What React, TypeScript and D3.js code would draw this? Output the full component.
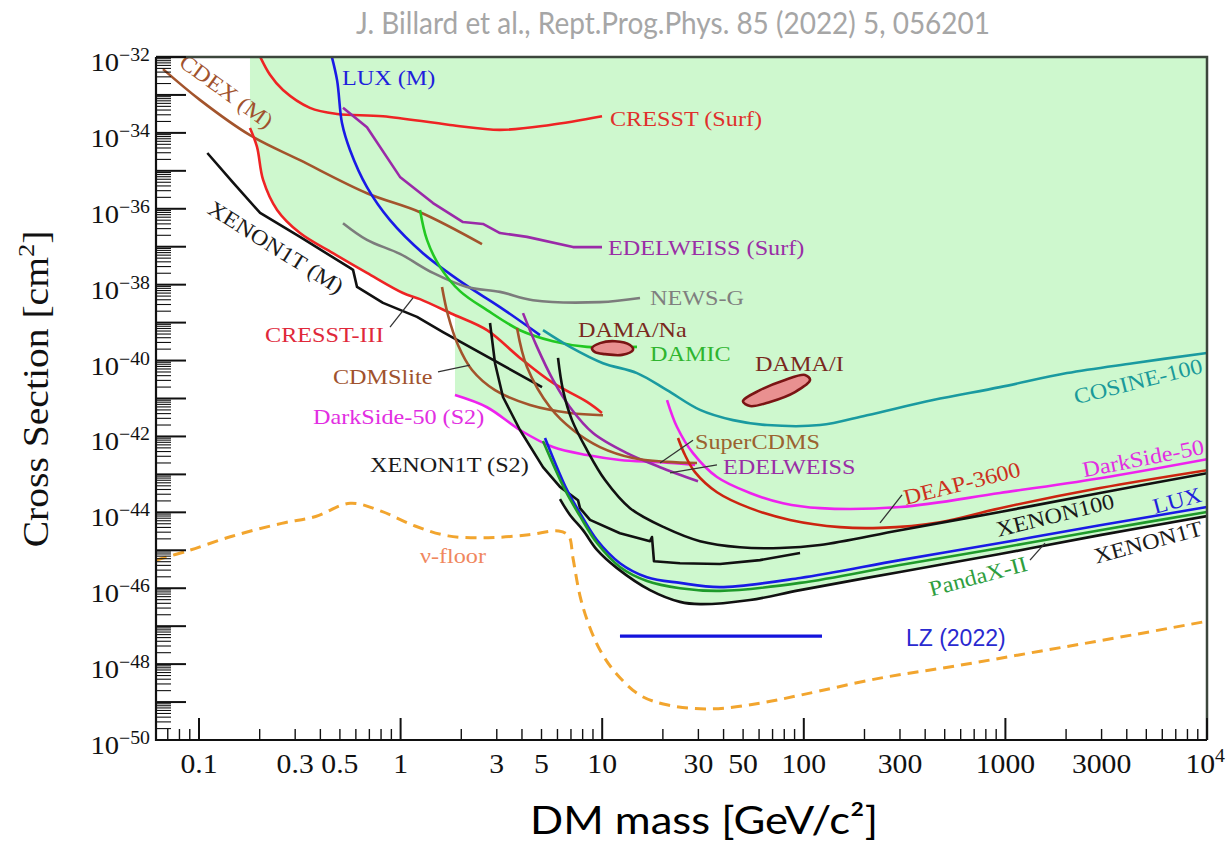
import React from "react";
import * as d3 from "d3";

// [DM mass (GeV/c^2), log10 of cross section (cm^2)]
type Pt = [number, number];

const cdexM: Pt[] = [[0.0663, -32.32], [0.101, -33.13], [0.179, -34.06], [0.317, -34.72], [0.681, -35.59], [1.248, -36.09], [2.534, -36.93]];
const cresstSurf: Pt[] = [[0.194, -31.82], [0.225, -32.47], [0.261, -32.87], [0.355, -33.34], [0.484, -33.5], [0.818, -33.56], [1.758, -33.79], [3.112, -33.92], [5.51, -33.79], [9.98, -33.56]];
const luxM: Pt[] = [[0.447, -31.82], [0.484, -32.61], [0.512, -33.74], [0.561, -34.45], [0.681, -35.43], [0.886, -36.3], [1.291, -37.17], [2.04, -37.96], [3.112, -38.59], [4.915, -39.33]];
const edelweissSurf: Pt[] = [[0.518, -33.34], [0.681, -33.85], [0.993, -35.16], [1.448, -35.85], [2.04, -36.35], [2.563, -36.4], [3.112, -36.64], [4.237, -36.74], [7.166, -37.01], [9.98, -37.01]];
const newsG: Pt[] = [[0.518, -36.38], [0.681, -36.82], [0.993, -37.19], [1.448, -37.69], [2.134, -38.06], [3.112, -38.19], [4.537, -38.41], [9.75, -38.46], [15.4, -38.35]];
const xenon1tM: Pt[] = [[0.11, -34.53], [0.148, -35.32], [0.201, -36.11], [0.317, -36.74], [0.561, -37.56], [0.581, -37.61], [0.608, -38.06], [0.818, -38.48], [1.206, -38.85], [1.623, -39.25], [5.03, -40.7]];
const cresstIII: Pt[] = [[0.179, -33.87], [0.194, -34.37], [0.208, -35.24], [0.244, -36.03], [0.317, -36.64], [0.462, -37.17], [0.681, -37.69], [1.028, -38.22], [1.248, -38.38], [1.819, -38.78], [2.683, -39.2], [3.911, -39.93], [5.701, -40.59], [8.407, -41.09], [9.977, -41.38]];
const cdmsLite: Pt[] = [[1.605, -38.06], [1.718, -38.8], [1.926, -39.59], [2.261, -40.25], [2.94, -40.78], [4.385, -41.17], [6.923, -41.38], [10.09, -41.44]];
const damic: Pt[] = [[1.248, -36.03], [1.352, -36.82], [1.568, -37.53], [1.97, -38.17], [2.683, -38.67], [3.911, -39.2], [5.701, -39.49], [8.407, -39.64], [14.88, -39.64]];
const damaNa: Pt[] = [[8.9, -39.67], [9.75, -39.54], [11.58, -39.49], [13.74, -39.59], [14.22, -39.72], [12.54, -39.85], [10.33, -39.83], [9.21, -39.78]];
const damaI: Pt[] = [[49.9, -41.07], [60.6, -40.78], [80.7, -40.51], [101.4, -40.38], [107.4, -40.51], [90.4, -40.83], [68.0, -41.09], [54.1, -41.2]];
const cosine100: Pt[] = [[5.085, -39.2], [6.923, -39.64], [10.09, -40.07], [14.88, -40.33], [20.97, -40.78], [30.56, -41.3], [44.56, -41.57], [65.7, -41.7], [120.3, -41.7], [205.9, -41.44], [437.4, -41.04], [940, -40.7], [2021, -40.33], [4296, -40.07], [10000, -39.8]];
const darkSideS2: Pt[] = [[1.861, -40.91], [2.683, -41.23], [3.911, -41.83], [5.701, -42.28], [8.407, -42.49], [12.25, -42.62], [19.36, -42.68], [28.9, -42.75]];
const xenon1tS2: Pt[] = [[2.777, -39.01], [2.94, -40.07], [3.22, -40.96], [3.911, -41.83], [5.085, -42.81], [6.176, -43.33], [7.586, -43.68], [7.761, -43.89], [8.7, -44.2], [12.25, -44.55], [17.27, -44.76], [17.66, -44.65], [18.07, -45.29], [24.32, -45.34], [38.4, -45.36], [60.6, -45.26], [95.8, -45.07]];
const xenon100: Pt[] = [[6.037, -39.93], [6.391, -40.78], [7.084, -41.57], [8.407, -42.36], [10.33, -43.15], [13.74, -43.89], [20.59, -44.41], [30.56, -44.76], [48.27, -44.92], [76.2, -44.94], [120.3, -44.86], [300.1, -44.47], [940, -43.99], [2946, -43.49], [10000, -42.97]];
const xenon1t: Pt[] = [[6.176, -43.65], [6.923, -44.07], [8.031, -44.47], [9.424, -44.99], [11.84, -45.47], [17.27, -46.05], [24.32, -46.36], [30.56, -46.42], [54.1, -46.31], [95.8, -46.05], [300.1, -45.57], [940, -45.1], [2946, -44.6], [10000, -44.1]];
const lux: Pt[] = [[5.204, -42.04], [6.69, -43.41], [7.761, -44.02], [9.424, -44.73], [12.25, -45.34], [16.68, -45.71], [24.32, -45.86], [38.4, -45.97], [95.8, -45.73], [300.1, -45.26], [940, -44.81], [2946, -44.34], [10000, -43.86]];
const pandaX: Pt[] = [[5.085, -42.12], [6.54, -43.41], [7.761, -44.1], [9.424, -44.81], [12.25, -45.44], [16.68, -45.81], [24.32, -46.0], [38.4, -46.07], [95.8, -45.86], [300.1, -45.39], [940, -44.94], [2946, -44.47], [10000, -43.99]];
const deap3600: Pt[] = [[23.77, -42.04], [25.75, -42.49], [28.86, -42.94], [37.1, -43.47], [54.1, -43.89], [85.4, -44.2], [151.2, -44.39], [238.8, -44.41], [473.8, -44.26], [940, -43.89], [2946, -43.36], [10000, -42.89]];
const darkSide50: Pt[] = [[20.97, -41.04], [23.5, -41.75], [28.21, -42.44], [37.1, -43.07], [54.1, -43.49], [78.85, -43.76], [120.3, -43.89], [300.1, -43.86], [940, -43.49], [2946, -43.1], [10000, -42.6]];
const edelweiss: Pt[] = [[4.047, -38.75], [4.75, -39.64], [5.701, -40.51], [6.923, -41.23], [9.004, -41.91], [13.27, -42.44], [19.36, -42.81], [29.87, -43.18]];
const superCdms: Pt[] = [[3.78, -39.14], [4.237, -40.17], [5.51, -41.23], [7.166, -41.83], [9.752, -42.28], [14.22, -42.57], [20.97, -42.67], [29.53, -42.7]];
const neutrinoFloor: Pt[] = [[0.0612, -45.26], [0.0872, -45.02], [0.146, -44.63], [0.257, -44.29], [0.379, -44.11], [0.563, -43.76], [0.8, -43.97], [1.18, -44.36], [1.72, -44.62], [2.72, -44.67], [4.32, -44.59], [6.08, -44.49], [6.82, -44.62], [7.16, -45.2], [7.76, -46.2], [8.5, -46.9], [9.75, -47.63], [11.7, -48.24], [15.4, -48.82], [21.2, -49.08], [35.0, -49.18], [60.6, -49.03], [95.8, -48.82], [238.8, -48.37], [595, -48.03], [1484, -47.66], [3703, -47.29], [10000, -46.87]];
const lz2022: Pt[] = [[12.25, -47.26], [123.1, -47.26]];
const excludedRegion: Pt[] = [[0.179, -31.82], [10000, -31.82], [10000, -44.1], [2946, -44.6], [940, -45.1], [300.1, -45.57], [95.8, -46.05], [54.1, -46.31], [30.56, -46.42], [24.32, -46.36], [17.27, -46.05], [11.84, -45.47], [9.424, -44.99], [8.031, -44.47], [6.923, -44.07], [6.176, -43.65], [6.176, -43.33], [5.085, -42.81], [3.911, -41.83], [2.683, -41.23], [1.861, -40.91], [1.861, -38.8], [1.819, -38.78], [1.248, -38.38], [1.028, -38.22], [0.681, -37.69], [0.462, -37.17], [0.317, -36.64], [0.244, -36.03], [0.208, -35.24], [0.194, -34.37], [0.179, -33.87]];

const xTickLabels = [0.1, 0.3, 0.5, 1, 3, 5, 10, 30, 50, 100, 300, 1000, 3000, 10000];
const yTickExponents = [-32, -34, -36, -38, -40, -42, -44, -46, -48, -50];

const W = 1227;
const H = 844;
const L = 156, R = 1207, T = 57, B = 740;

const x = d3.scaleLog().domain([0.0612, 1e4]).range([L, R]);
const y = d3.scaleLog().domain([1e-50, 1e-32]).range([B, T]);
const px = (d: Pt) => x(d[0]);
const py = (d: Pt) => y(Math.pow(10, d[1]));

const smooth = d3.line<Pt>().x(px).y(py).curve(d3.curveCatmullRom.alpha(0.5));
const straight = d3.line<Pt>().x(px).y(py);
const contour = d3.line<Pt>().x(px).y(py).curve(d3.curveCatmullRomClosed.alpha(0.5));

const serif = "'Liberation Serif', 'Times New Roman', serif";
const SX = 1.1;

const curves = [
  { pts: cdexM, color: "#a3542c", line: smooth },
  { pts: cresstSurf, color: "#ee2424", line: smooth },
  { pts: luxM, color: "#1a1ae6", line: smooth },
  { pts: edelweissSurf, color: "#9a2aa8", line: straight },
  { pts: newsG, color: "#7c7c7c", line: smooth },
  { pts: cresstIII, color: "#ee2424", line: smooth },
  { pts: xenon1tM, color: "#111", line: straight },
  { pts: cdmsLite, color: "#a3542c", line: smooth },
  { pts: damic, color: "#22c822", line: smooth },
  { pts: cosine100, color: "#1a9aa0", line: smooth },
  { pts: darkSideS2, color: "#ee22ee", line: smooth },
  { pts: edelweiss, color: "#9a2aa8", line: smooth },
  { pts: superCdms, color: "#a3542c", line: smooth },
  { pts: xenon1tS2, color: "#111", line: straight },
  { pts: darkSide50, color: "#ee22ee", line: smooth },
  { pts: deap3600, color: "#cc2410", line: smooth },
  { pts: xenon100, color: "#111", line: smooth },
  { pts: lux, color: "#1a1ae6", line: smooth },
  { pts: pandaX, color: "#1e9a2a", line: smooth },
  { pts: xenon1t, color: "#111", line: smooth },
];

const labels: { text: string; at: Pt; color: string; rot?: number }[] = [
  { text: "CDEX (M)", at: [0.137, -32.9], color: "#a0522d", rot: 36 },
  { text: "LUX (M)", at: [0.512, -32.53], color: "#1f1fdc" },
  { text: "CRESST (Surf)", at: [10.93, -33.61], color: "#e0302c" },
  { text: "EDELWEISS (Surf)", at: [10.69, -37.01], color: "#9a2ea6" },
  { text: "NEWS-G", at: [17.27, -38.33], color: "#7f7f7f" },
  { text: "XENON1T (M)", at: [0.241, -37.01], color: "#1a1a1a", rot: 32 },
  { text: "CRESST-III", at: [0.2126, -39.3], color: "#e0283a" },
  { text: "CDMSlite", at: [0.462, -40.43], color: "#a0522d" },
  { text: "DarkSide-50 (S2)", at: [0.3677, -41.46], color: "#e22ee2" },
  { text: "XENON1T (S2)", at: [0.705, -42.73], color: "#1a1a1a" },
  { text: "DAMA/Na", at: [7.586, -39.17], color: "#7a2a1e" },
  { text: "DAMIC", at: [17.27, -39.8], color: "#2fb52f" },
  { text: "DAMA/I", at: [57.3, -40.07], color: "#7a2a1e" },
  { text: "COSINE-100", at: [4550, -40.54], color: "#1a9a9a", rot: -14 },
  { text: "SuperCDMS", at: [28.86, -42.12], color: "#9b6230" },
  { text: "EDELWEISS", at: [39.73, -42.78], color: "#9a2ea6" },
  { text: "DarkSide-50", at: [4820, -42.57], color: "#e22ee2", rot: -11 },
  { text: "DEAP-3600", at: [609, -43.23], color: "#cc3020", rot: -14 },
  { text: "LUX", at: [7100, -43.68], color: "#1f1fdc", rot: -15 },
  { text: "XENON100", at: [1763, -44.07], color: "#1a1a1a", rot: -14 },
  { text: "XENON1T", at: [5098, -44.78], color: "#1a1a1a", rot: -15 },
  { text: "PandaX-II", at: [731, -45.68], color: "#2e9e3e", rot: -15 },
  { text: "ν-floor", at: [1.248, -45.13], color: "#f0875e" },
];

// label leader lines
const leaders: [Pt, Pt][] = [
  [[0.886, -39.12], [1.152, -38.35]],
  [[1.533, -40.3], [2.209, -40.12]],
  [[19.36, -42.7], [28.21, -42.1]],
  [[21.7, -42.96], [37.1, -42.75]],
  [[238.8, -44.28], [307, -43.54]],
  [[1324, -45.26], [1572, -44.81]],
];

export default function App() {
  const yMajor = d3.range(-50, -31);
  const yMinor = d3.range(-50, -32).flatMap((e) => d3.range(2, 10).map((k) => k * Math.pow(10, e)));
  const xMajor = [0.1, 1, 10, 100, 1000, 10000];
  const xMinor = [0.07, 0.08, 0.09].concat(
    d3.range(-1, 4).flatMap((e) => d3.range(2, 10).map((k) => k * Math.pow(10, e)))
  );

  return (
    <svg width={W} height={H} style={{ position: "absolute", left: 0, top: 0, background: "#fff" }}>
      <defs>
        <clipPath id="plot">
          <rect x={L} y={T} width={R - L} height={B - T} />
        </clipPath>
      </defs>

      <text x={673} y={34} textAnchor="middle" fontFamily="Lato, 'Open Sans', sans-serif" fontSize={30}
        fill="#a6a6a6" textLength={634} lengthAdjust="spacingAndGlyphs">
        J. Billard et al., Rept.Prog.Phys. 85 (2022) 5, 056201
      </text>

      <g clipPath="url(#plot)">
        <path d={straight(excludedRegion) ?? ""} fill="#cef8ce" stroke="none" />
        <path d={smooth(neutrinoFloor) ?? ""} fill="none" stroke="#f2a52e" strokeWidth={3} strokeDasharray="11 7" />
        {curves.map((c, i) => (
          <path key={i} d={c.line(c.pts) ?? ""} fill="none" stroke={c.color} strokeWidth={2.6} strokeLinejoin="round" />
        ))}
        <path d={contour(damaNa) ?? ""} fill="#e99090" stroke="#7a1414" strokeWidth={2.6} />
        <path d={contour(damaI) ?? ""} fill="#e99090" stroke="#7a1414" strokeWidth={2.6} />
        <path d={straight(lz2022) ?? ""} stroke="#1414dc" strokeWidth={3.2} />
        {leaders.map((l, i) => (
          <path key={i} d={straight(l) ?? ""} stroke="#333" strokeWidth={1.3} fill="none" />
        ))}
      </g>

      {labels.map((l) => (
        <text key={l.text} transform={`translate(${px(l.at)},${py(l.at)}) rotate(${l.rot ?? 0}) scale(${SX},1)`}
          textAnchor={l.rot ? "middle" : "start"} dominantBaseline="central"
          fontFamily={serif} fontSize={22} fill={l.color}>
          {l.text}
        </text>
      ))}
      <text x={px([321, -47.31])} y={py([321, -47.31])} dominantBaseline="central"
        fontFamily="'Liberation Sans', Arial, sans-serif" fontSize={23} fill="#2a2ad0">
        LZ (2022)
      </text>

      {/* frame */}
      <path d={`M${L},${T}H${R}V${B}`} fill="none" stroke="#3c463c" strokeWidth={2.5} />
      <path d={`M${L},${T}V${B}H${R}`} fill="none" stroke="#111" strokeWidth={2.2} />

      {/* y ticks */}
      {yMajor.map((e) => (
        <line key={e} x1={L} x2={L + 30} y1={y(Math.pow(10, e))} y2={y(Math.pow(10, e))} stroke="#111" strokeWidth={2} />
      ))}
      {yMinor.map((v, i) => (
        <line key={i} x1={L} x2={L + 15} y1={y(v)} y2={y(v)} stroke="#111" strokeWidth={1.1} />
      ))}
      {yTickExponents.map((e) => (
        <text key={e} transform={`translate(150,${y(Math.pow(10, e)) + 14}) scale(${SX},1)`} textAnchor="end"
          fontFamily={serif} fontSize={26} fill="#111">
          10<tspan dy={-10} fontSize={18}>{`−${-e}`}</tspan>
        </text>
      ))}

      {/* x ticks */}
      {xMajor.map((v) => (
        <line key={v} x1={x(v)} x2={x(v)} y1={B} y2={B - 22} stroke="#111" strokeWidth={2} />
      ))}
      {xMinor.map((v, i) => (
        <line key={i} x1={x(v)} x2={x(v)} y1={B} y2={B - 11} stroke="#111" strokeWidth={1.4} />
      ))}
      {xTickLabels.map((v) =>
        v === 10000 ? (
          <text key={v} transform={`translate(1225,773) scale(${SX},1)`} textAnchor="end"
            fontFamily={serif} fontSize={27} fill="#111">
            10<tspan dy={-11} fontSize={18}>4</tspan>
          </text>
        ) : (
          <text key={v} transform={`translate(${x(v)},773) scale(${SX},1)`} textAnchor="middle"
            fontFamily={serif} fontSize={27} fill="#111">
            {String(v)}
          </text>
        )
      )}

      {/* axis titles */}
      <text transform={`translate(48,389) rotate(-90) scale(${SX},1)`} textAnchor="middle"
        fontFamily={serif} fontSize={36} fill="#111">
        Cross Section [cm<tspan dy={-14} fontSize={24}>2</tspan><tspan dy={14}>]</tspan>
      </text>
      <text x={704} y={834} textAnchor="middle" fontFamily="Lato, 'Open Sans', sans-serif" fontSize={38}
        fill="#000" textLength={348} lengthAdjust="spacingAndGlyphs">
        DM mass [GeV/c²]
      </text>
    </svg>
  );
}
